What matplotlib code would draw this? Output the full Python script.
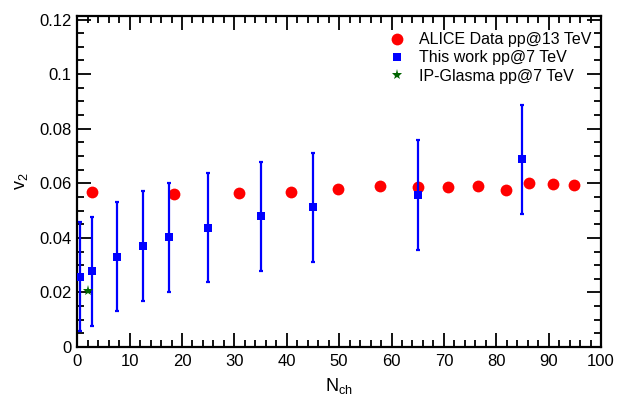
import matplotlib
matplotlib.use("Agg")
import matplotlib.pyplot as plt
from matplotlib.ticker import MultipleLocator, FormatStrFormatter

plt.rcParams["font.family"] = ["Liberation Sans", "DejaVu Sans"]

# ALICE data pp@13 TeV
alice_nch = [2.75, 18.5, 30.9, 40.9, 49.7, 57.8, 65.1, 70.7, 76.6, 81.9, 86.3, 90.9, 94.9]
alice_v2 = [0.0567, 0.0559, 0.0563, 0.0567, 0.0580, 0.0590, 0.0587, 0.0587, 0.0591,
            0.0574, 0.0601, 0.0596, 0.0592]

# This work pp@7 TeV
work_nch = [0.5, 2.9, 7.5, 12.5, 17.5, 25.0, 35.0, 45.1, 65.0, 85.0]
work_v2 = [0.0258, 0.0277, 0.0331, 0.0370, 0.0402, 0.0438, 0.0479, 0.0512, 0.0557, 0.0688]
work_err = [0.020, 0.020, 0.020, 0.020, 0.020, 0.020, 0.020, 0.020, 0.020, 0.020]

# IP-Glasma pp@7 TeV
glasma_nch = [2.0]
glasma_v2 = [0.0205]

fig = plt.figure(figsize=(6.18, 3.98), dpi=100)
ax = fig.add_axes([0.125, 0.128, 0.8475, 0.8325])

h1, = ax.plot(alice_nch, alice_v2, "o", color="#ff0000", markersize=8.5,
              markeredgewidth=0, label="ALICE Data pp@13 TeV", zorder=3)
ax.errorbar(work_nch, work_v2, yerr=work_err, fmt="none", ecolor="#0000ff",
            elinewidth=1.6, capsize=1.5, capthick=1.6, zorder=4)
h2, = ax.plot(work_nch, work_v2, "s", color="#0000ff", markersize=5.5,
              markeredgewidth=0, label="This work pp@7 TeV", zorder=4)
h3, = ax.plot(glasma_nch, glasma_v2, "*", color="#006400", markersize=8,
              markeredgewidth=0, label="IP-Glasma pp@7 TeV", zorder=5)

ax.set_xlim(0, 100)
ax.set_ylim(0, 0.1214)
ax.xaxis.set_major_locator(MultipleLocator(10))
ax.xaxis.set_minor_locator(MultipleLocator(2))
ax.yaxis.set_major_locator(MultipleLocator(0.02))
ax.yaxis.set_minor_locator(MultipleLocator(0.005))
ax.yaxis.set_major_formatter(FormatStrFormatter("%g"))

ax.tick_params(which="both", direction="in", top=True, right=True,
               labelsize=12, width=1.3)
ax.tick_params(which="major", length=10)
ax.tick_params(which="minor", length=5)
ax.tick_params(axis="x", pad=5)
ax.tick_params(axis="y", pad=4)
for s in ax.spines.values():
    s.set_linewidth(1.6)

ax.set_xlabel(r"N$_{\mathregular{ch}}$", fontsize=13, labelpad=5)
ax.set_ylabel(r"v$_{\mathregular{2}}$", fontsize=13, labelpad=7)

ax.legend(handles=[h1, h2, h3], loc="upper right", bbox_to_anchor=(1.0, 0.979),
          frameon=False, fontsize=11.5, handletextpad=0.6, labelspacing=0.2,
          borderaxespad=0.3, handlelength=1.5, borderpad=0.3)

fig.savefig("out.png", dpi=100)
